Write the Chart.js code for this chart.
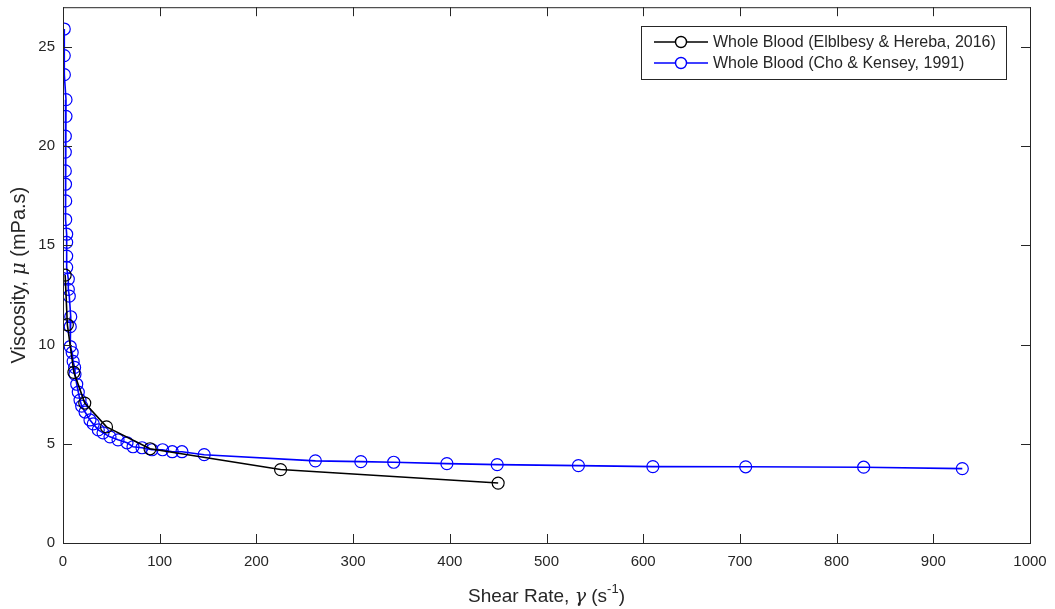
<!DOCTYPE html>
<html>
<head>
<meta charset="utf-8">
<script src="https://cdn.jsdelivr.net/npm/chart.js@4/dist/chart.umd.min.js"></script>
<style>
  html, body { margin: 0; padding: 0; background: #fff; }
  #wrap { position: relative; width: 1055px; height: 609px; }
</style>
</head>
<body>
<div id="wrap"><canvas id="c"></canvas></div>
<script>
// Elblbesy & Hereba, 2016
const shearElb = [2.25, 4.5, 11.25, 22.5, 45, 90, 225, 450];
const viscElb = [13.5, 11.0, 8.6, 7.05, 5.85, 4.75, 3.7, 3.02];

// Cho & Kensey, 1991
const shearCho = [1.3, 1.3, 1.4, 3.1, 3.1, 2.4, 2.4, 2.4, 2.6, 2.8, 2.8, 3.8, 3.8, 3.8, 3.8,
  5.5, 5.5, 6.5, 8.0, 7.5, 7.5, 9.5, 10.5, 12.0, 12.4, 14.2, 15.8, 17.6, 19.3, 22.8, 27.9,
  31.3, 36.5, 41.4, 48.6, 56.9, 66.2, 72.4, 81.7, 92, 103, 113, 123, 146,
  261, 308, 342, 397, 449, 533, 610, 706, 828, 930];
const viscCho = [25.9, 24.56, 23.6, 22.34, 21.5, 20.5, 19.7, 18.75, 18.08, 17.24, 16.3, 15.56, 15.15, 14.46, 13.89,
  13.3, 12.78, 12.44, 11.4, 10.9, 9.9, 9.6, 9.15, 8.85, 8.5, 8.0, 7.6, 7.2, 6.9, 6.6, 6.2,
  6.0, 5.7, 5.55, 5.35, 5.2, 5.05, 4.85, 4.8, 4.7, 4.7, 4.6, 4.6, 4.45,
  4.14, 4.1, 4.07, 4.0, 3.95, 3.9, 3.85, 3.84, 3.82, 3.75];

const xTicks = [0, 100, 200, 300, 400, 500, 600, 700, 800, 900, 1000];
const yTicks = [0, 5, 10, 15, 20, 25];

const legendLabels = ['Whole Blood (Elblbesy & Hereba, 2016)', 'Whole Blood (Cho & Kensey, 1991)'];
const seriesColors = ['#000000', '#0000ff'];

const FONT = '"Liberation Sans", Arial, Helvetica, sans-serif';
const AXIS = '#262626';

function pts(xs, ys) { return xs.map((x, i) => ({ x: x, y: ys[i] })); }

// frame, inward ticks, axis titles and legend drawn like MATLAB
const matlabFrame = {
  id: 'matlabFrame',
  afterDraw(chart) {
    const { ctx, chartArea: a, scales } = chart;
    ctx.save();
    ctx.strokeStyle = AXIS;
    ctx.lineWidth = 1;
    ctx.strokeRect(a.left + 0.5, a.top + 0.5, a.right - a.left, a.bottom - a.top);
    ctx.beginPath();
    xTicks.forEach(v => {
      const px = Math.round(scales.x.getPixelForValue(v)) + 0.5;
      ctx.moveTo(px, a.bottom); ctx.lineTo(px, a.bottom - 9);
      ctx.moveTo(px, a.top); ctx.lineTo(px, a.top + 9);
    });
    yTicks.forEach(v => {
      const py = Math.round(scales.y.getPixelForValue(v)) + 0.5;
      ctx.moveTo(a.left, py); ctx.lineTo(a.left + 9, py);
      ctx.moveTo(a.right, py); ctx.lineTo(a.right - 9, py);
    });
    ctx.stroke();

    // x title
    ctx.fillStyle = AXIS;
    ctx.textBaseline = 'alphabetic';
    const cx = (a.left + a.right) / 2;
    const parts = [
      { t: 'Shear Rate, ', f: '19px ' + FONT, dy: 0 },
      { t: 'γ', f: 'italic 19px "DejaVu Serif", serif', dy: 0 },
      { t: ' (s', f: '19px ' + FONT, dy: 0 },
      { t: '-1', f: '13px ' + FONT, dy: -9 },
      { t: ')', f: '19px ' + FONT, dy: 0 }
    ];
    let total = 0;
    parts.forEach(p => { ctx.font = p.f; p.w = ctx.measureText(p.t).width; total += p.w; });
    let x0 = cx - total / 2;
    parts.forEach(p => { ctx.font = p.f; ctx.textAlign = 'left'; ctx.fillText(p.t, x0, 602 + p.dy); x0 += p.w; });

    // y title
    ctx.save();
    ctx.translate(25, (a.top + a.bottom) / 2);
    ctx.rotate(-Math.PI / 2);
    const yparts = [
      { t: 'Viscosity, ', f: '20px ' + FONT },
      { t: 'μ', f: 'italic 20px "DejaVu Serif", serif' },
      { t: ' (mPa.s)', f: '20px ' + FONT }
    ];
    total = 0;
    yparts.forEach(p => { ctx.font = p.f; p.w = ctx.measureText(p.t).width; total += p.w; });
    x0 = -total / 2;
    yparts.forEach(p => { ctx.font = p.f; ctx.fillText(p.t, x0, 0); x0 += p.w; });
    ctx.restore();

    // legend
    const lx = 641, ly = 26, lw = 365, lh = 53;
    ctx.fillStyle = '#fff';
    ctx.fillRect(lx, ly, lw, lh);
    ctx.strokeStyle = AXIS;
    ctx.strokeRect(lx + 0.5, ly + 0.5, lw, lh);
    ctx.font = '16px ' + FONT;
    ctx.textBaseline = 'middle';
    legendLabels.forEach((lab, i) => {
      const yy = ly + 16 + i * 21;
      ctx.strokeStyle = seriesColors[i];
      ctx.lineWidth = 1.4;
      ctx.beginPath(); ctx.moveTo(654, yy); ctx.lineTo(708, yy); ctx.stroke();
      ctx.fillStyle = '#fff';
      ctx.beginPath(); ctx.arc(681, yy, 5.5, 0, Math.PI * 2); ctx.fill(); ctx.stroke();
      ctx.fillStyle = AXIS;
      ctx.fillText(lab, 713, yy + 1);
    });
    ctx.restore();
  }
};

new Chart(document.getElementById('c'), {
  type: 'line',
  data: {
    datasets: [
      {
        label: legendLabels[0],
        data: pts(shearElb, viscElb),
        borderColor: seriesColors[0],
        backgroundColor: 'rgba(0,0,0,0)',
        borderWidth: 1.6,
        pointRadius: 6,
        pointBorderWidth: 1.2,
        pointBorderColor: seriesColors[0],
        pointBackgroundColor: 'rgba(0,0,0,0)',
        tension: 0
      },
      {
        label: legendLabels[1],
        data: pts(shearCho, viscCho),
        borderColor: seriesColors[1],
        backgroundColor: 'rgba(0,0,0,0)',
        borderWidth: 1.6,
        pointRadius: 6,
        pointBorderWidth: 1.2,
        pointBorderColor: seriesColors[1],
        pointBackgroundColor: 'rgba(0,0,0,0)',
        tension: 0
      }
    ]
  },
  options: {
    responsive: true,
    maintainAspectRatio: false,
    animation: false,
    layout: { padding: { top: 7, right: 25, left: 0, bottom: 0 } },
    plugins: { legend: { display: false }, tooltip: { enabled: false } },
    scales: {
      x: {
        type: 'linear', min: 0, max: 1000,
        afterBuildTicks: s => { s.ticks = xTicks.map(v => ({ value: v })); },
        afterFit: s => { s.height = 66; s.paddingLeft = 0; s.paddingRight = 0; },
        grid: { display: false, drawTicks: false },
        border: { display: false },
        ticks: { color: AXIS, font: { family: FONT, size: 15 }, padding: 10, maxRotation: 0,
                 callback: v => String(v) }
      },
      y: {
        type: 'linear', min: 0, max: 27,
        afterBuildTicks: s => { s.ticks = yTicks.map(v => ({ value: v })); },
        afterFit: s => { s.width = 63; s.paddingTop = 0; s.paddingBottom = 0; },
        grid: { display: false, drawTicks: false },
        border: { display: false },
        ticks: { color: AXIS, font: { family: FONT, size: 15 }, padding: 8,
                 callback: v => String(v) }
      }
    }
  },
  plugins: [matlabFrame]
});
</script>
</body>
</html>
